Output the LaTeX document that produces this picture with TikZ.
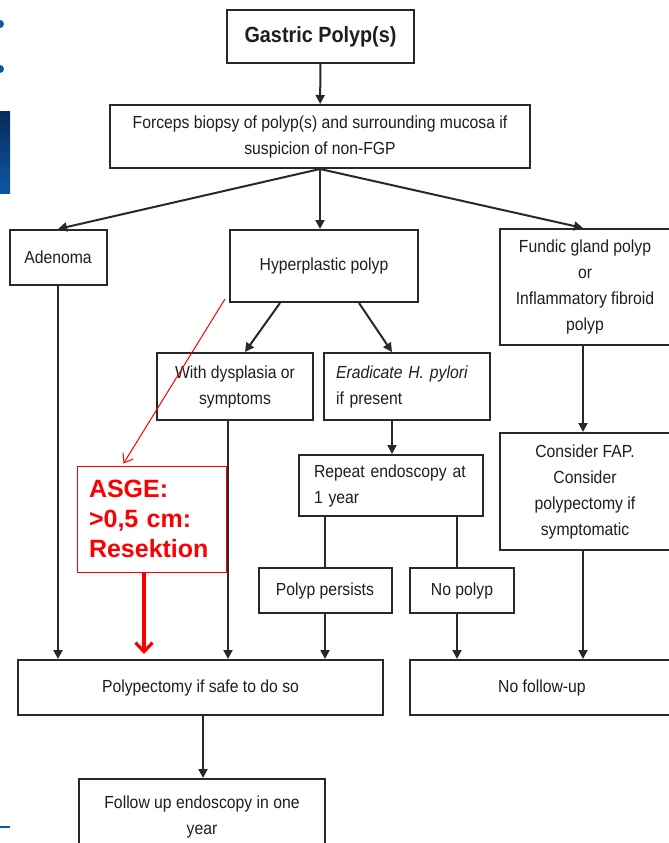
\documentclass[tikz,border=0pt]{standalone}
\usepackage{fontspec}
\setmainfont{Liberation Sans}
\newfontfamily\narrowsans{Liberation Sans}[FakeStretch=0.9]
\usetikzlibrary{arrows.meta,positioning,calc}
\definecolor{ink}{RGB}{30,30,30}
\definecolor{frame}{RGB}{40,40,40}
\definecolor{signal}{RGB}{250,0,0}
\definecolor{navy}{RGB}{8,42,92}
\definecolor{ocean}{RGB}{12,88,165}
\tikzset{
  >={Triangle[length=9pt,width=9pt]},
  box/.style={draw=frame,line width=2pt,fill=white,text=ink,align=center,
    font=\narrowsans\fontsize{17.5}{26}\selectfont,inner sep=3pt},
  flow/.style={->,line width=2pt,draw=frame},
  link/.style={line width=2pt,draw=frame},
  note/.style={draw=signal,line width=1pt,text=signal,align=left,
    font=\fontsize{25}{30}\selectfont\bfseries},
  hint/.style={-{Straight Barb[length=8pt,width=12pt]},draw=signal,line width=1pt},
  push/.style={-{Straight Barb[length=9pt,width=17pt]},draw=signal,line width=3.2pt},
}

\begin{document}
\begin{tikzpicture}[x=1pt,y=-1pt]
  \useasboundingbox (0,0) rectangle (669,843);
  \clip (0,0) rectangle (669,843);
  % slide edge
  \fill[ocean] (0,24) circle (4) (0,69) circle (4);
  \shade[top color=navy,bottom color=ocean] (0,111) rectangle (10,193);
  \fill[ocean] (0,826) rectangle (10,828);

  % boxes
  \node[box,minimum width=187pt,minimum height=53pt,
    font=\narrowsans\fontsize{22}{26}\selectfont\bfseries] (gp) at (320.5,36.5) {Gastric Polyp(s)};
  \node[box,minimum width=420pt,minimum height=63pt] (fb) at (320,136.5)
    {Forceps biopsy of polyp(s) and surrounding mucosa if\\suspicion of non-FGP};
  \node[box,minimum width=97pt,minimum height=55pt] (ad) at (58,257.5) {Adenoma};
  \node[box,minimum width=188pt,minimum height=72pt] (hp) at (324,266) {Hyperplastic polyp};
  \node[box,minimum width=170pt,minimum height=116pt] (fg) at (585,287)
    {Fundic gland polyp\\or\\Inflammatory fibroid\\polyp};
  \node[box,minimum width=156pt,minimum height=67pt] (wd) at (235,386.5)
    {With dysplasia or\\symptoms};
  \node[box,minimum width=166pt,minimum height=67pt,align=left,text width=142pt,
    inner xsep=12pt] (er) at (407,386.5) {\textit{Eradicate H. pylori}\\if present};
  \node[box,minimum width=184pt,minimum height=61pt,align=left,text width=154pt,
    inner xsep=15pt] (rp) at (391,485.5) {Repeat endoscopy at\\1 year};
  \node[box,minimum width=170pt,minimum height=117pt] (fap) at (585,491.5)
    {Consider FAP.\\Consider\\polypectomy if\\symptomatic};
  \node[box,minimum width=133pt,minimum height=45pt] (pp) at (325,590.5) {Polyp persists};
  \node[box,minimum width=104pt,minimum height=45pt] (np) at (462,590.5) {No polyp};
  \node[box,minimum width=365pt,minimum height=55pt] (pe) at (200.5,687.5)
    {Polypectomy if safe to do so};
  \node[box,minimum width=264pt,minimum height=55pt] (nf) at (542,687.5) {No follow-up};
  \node[box,minimum width=246pt,minimum height=76pt] (fu) at (202,817)
    {Follow up endoscopy in one\\year};
  \node[note,minimum width=149pt,minimum height=106pt,text width=125pt,inner xsep=12pt]
    (asge) at (151.5,519) {ASGE:\\>0,5 cm:\\Resektion};

  % connectors
  \draw[flow] (gp) -- (fb);
  \draw[flow] (fb.south) -- (ad.north);
  \draw[flow] (fb.south) -- (hp.north -| fb.south);
  \draw[flow] (fb.south) -- ([xshift=-2pt]fg.north);
  \draw[flow] ([xshift=-44pt]hp.south) -- ([xshift=10pt]wd.north);
  \draw[flow] ([xshift=35pt]hp.south) -- ([xshift=-15pt]er.north);
  \draw[flow] ([xshift=-15pt]er.south) -- ([xshift=-15pt]er.south |- rp.north);
  \draw[link] (pp.north |- rp.south) -- (pp.north);
  \draw[link] ([xshift=-5pt]np.north |- rp.south) -- ([xshift=-5pt]np.north);
  \draw[flow] ([xshift=-2pt]fg.south) -- ([xshift=-2pt]fap.north);
  \draw[flow] (ad.south) -- (ad.south |- pe.north);
  \draw[flow] ([xshift=-7pt]wd.south) -- ([xshift=-7pt]wd.south |- pe.north);
  \draw[flow] (pp.south) -- (pp.south |- pe.north);
  \draw[flow] ([xshift=-5pt]np.south) -- ([xshift=-5pt]np.south |- nf.north);
  \draw[flow] ([xshift=-2pt]fap.south) -- ([xshift=-2pt]fap.south |- nf.north);
  \draw[flow] ([xshift=2.5pt]pe.south) -- ([xshift=2.5pt]pe.south |- fu.north);

  % guideline remark
  \draw[hint] ([shift={(-4,-4)}]hp.south west) -- ([xshift=-28pt,yshift=2pt]asge.north);
  \draw[push] ([xshift=-7.5pt]asge.south) -- ([xshift=-7.5pt,yshift=5pt]asge.south |- pe.north);
\end{tikzpicture}
\end{document}
